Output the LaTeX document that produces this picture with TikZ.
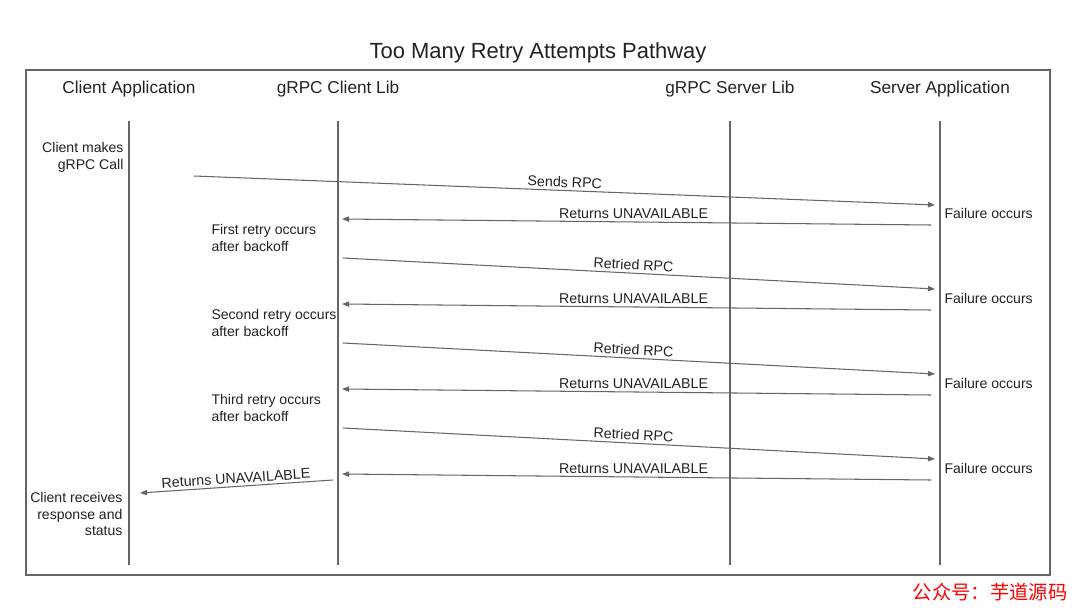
\documentclass[tikz,border=0pt]{standalone}
\usepackage{fontspec}
\setmainfont{Liberation Sans}
\newfontfamily\cjk{Noto Sans CJK SC}
\usetikzlibrary{arrows.meta}
\definecolor{linegray}{HTML}{666666}
\definecolor{textgray}{HTML}{222222}

\begin{document}
\begin{tikzpicture}[x=0.02cm,y=-0.02cm,line width=0.6pt,>={Triangle[length=4pt,width=3pt]},
  actor/.style={font=\fontsize{9.8}{12}\selectfont,text=textgray},
  note/.style={font=\fontsize{8}{9.4}\selectfont,text=textgray,inner sep=0pt},
  msg/.style={->,draw=linegray},
  lbl/.style={font=\fontsize{8.1}{9}\selectfont,text=textgray,above,inner sep=1.5pt},
  slbl/.style={lbl,sloped}]
  \useasboundingbox (0,0) rectangle (1080,612);
  \node[font=\fontsize{12.5}{15}\selectfont,text=textgray] (title) at (538,53) {Too Many Retry Attempts Pathway};
  \draw[linegray,line width=0.8pt] (26,70) rectangle (1050,575);
  \coordinate (top) at (0,121);
  \coordinate (bot) at (0,565);
  \node[actor] (ca) at (129,89) {Client Application};
  \node[actor] (cl) at (338,89) {gRPC Client Lib};
  \node[actor] (sl) at (730,89) {gRPC Server Lib};
  \node[actor] (sa) at (940,89) {Server Application};
  \foreach \n in {ca,cl,sl,sa}
     \draw[linegray] (\n |- top) -- (\n |- bot);
  \node[note,anchor=east,align=right] (call) at (124,157.5) {Client makes\\gRPC Call};
  \coordinate (send a) at (194,176);
  \coordinate (send b) at (935,205);
  \draw[msg] (send a) -- node[slbl]{Sends RPC} (send b);
  \foreach \k [evaluate=\k as \dy using 85*\k] in {0,...,3}{
     \coordinate (ret\k a) at (931,225+\dy);
     \coordinate (ret\k b) at (342,219+\dy);
     \draw[msg] (ret\k a) -- node[lbl,pos=0.505]{Returns UNAVAILABLE} (ret\k b);
     \node[note,anchor=west] (fail\k) at (944,213+\dy) {Failure occurs};
  }
  \foreach \k/\w [evaluate=\k as \dy using 85*(\k-1)] in {1/First,2/Second,3/Third}{
     \node[note,anchor=west,align=left] (retry\k) at (211,238+\dy) {\w{} retry occurs\\after backoff};
     \coordinate (rpc\k a) at (343,258+\dy);
     \coordinate (rpc\k b) at (935,289+\dy);
     \draw[msg] (rpc\k a) -- node[slbl,pos=0.49]{Retried RPC} (rpc\k b);
  }
  \coordinate (fin a) at (333,480);
  \coordinate (fin b) at (140,493);
  \draw[msg] (fin a) -- node[slbl]{Returns UNAVAILABLE} (fin b);
  \node[note,anchor=east,align=right] (recv) at (123,514) {Client receives\\response and\\status};
  \node[anchor=east,text=red,font=\cjk\fontsize{11}{13}\selectfont,inner sep=0pt] (mark) at (1068,592) {公众号：芋道源码};
\end{tikzpicture}
\end{document}
